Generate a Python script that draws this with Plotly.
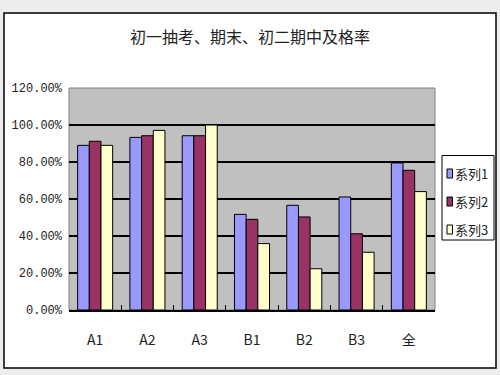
import plotly.graph_objects as go

categories = ["A1", "A2", "A3", "B1", "B2", "B3", "全"]
series1 = [0.89, 0.933, 0.942, 0.517, 0.566, 0.611, 0.795]
series2 = [0.912, 0.942, 0.942, 0.49, 0.503, 0.412, 0.755]
series3 = [0.89, 0.971, 1.0, 0.359, 0.223, 0.312, 0.64]
names = ["系列1", "系列2", "系列3"]
colors = ["#9999FF", "#993366", "#FFFFCC"]
yticks = [0, 0.2, 0.4, 0.6, 0.8, 1.0, 1.2]
yticklabels = ["0.00%", "20.00%", "40.00%", "60.00%", "80.00%", "100.00%", "120.00%"]

fig = go.Figure()
for name, vals, c in zip(names, [series1, series2, series3], colors):
    fig.add_trace(go.Bar(x=categories, y=vals, name=name, showlegend=False,
                         marker=dict(color=c, line=dict(color="black", width=1))))

# plot area px: x 69..435, y 88..310
W, H = 500, 375
L, R, T, B = 69, 65, 88, 65
pw, ph = W - L - R, H - T - B

def px_x(p):
    return (p - L) / pw

def px_y(p):
    return (H - B - p) / ph

shapes = [
    dict(type="rect", xref="paper", yref="paper",
         x0=px_x(4), x1=px_x(496), y0=px_y(368), y1=px_y(13),
         fillcolor="white", line=dict(color="black", width=1.5), layer="below"),
    dict(type="rect", xref="paper", yref="paper", x0=0, x1=1, y0=0, y1=1,
         fillcolor="#C0C0C0", line=dict(color="#808080", width=1), layer="below"),
    # legend box
    dict(type="rect", xref="paper", yref="paper",
         x0=px_x(442), x1=px_x(494), y0=px_y(240), y1=px_y(155.5),
         fillcolor="white", line=dict(color="black", width=1)),
]
annotations = []
for i, (name, c) in enumerate(zip(names, colors)):
    cy = 173.5 + 28 * i
    shapes.append(dict(type="rect", xref="paper", yref="paper",
                       x0=px_x(447), x1=px_x(452.5), y0=px_y(cy + 4.5), y1=px_y(cy - 4.5),
                       fillcolor=c, line=dict(color="black", width=1)))
    annotations.append(dict(text=name, xref="paper", yref="paper",
                            x=px_x(453.5), y=px_y(cy), xanchor="left", yanchor="middle",
                            showarrow=False,
                            font=dict(family="Noto Sans CJK SC", size=13, color="#222")))

fig.update_layout(
    width=W, height=H,
    margin=dict(l=L, r=R, t=T, b=B),
    paper_bgcolor="#ededed",
    plot_bgcolor="#C0C0C0",
    barmode="group", bargap=0.33, bargroupgap=0,
    title=dict(text="初一抽考、期末、初二期中及格率", x=0.5, xanchor="center",
               y=1 - 37 / H, yanchor="middle",
               font=dict(family="Noto Sans CJK SC", size=16, color="#222")),
    font=dict(family="Noto Sans CJK SC", color="#222"),
    showlegend=False,
    shapes=shapes,
    annotations=annotations,
)
fig.update_yaxes(range=[0, 1.2], tickvals=yticks, ticktext=yticklabels,
                 showgrid=True, gridcolor="black", gridwidth=1.5,
                 zeroline=False, showline=False, ticks="",
                 tickfont=dict(family="Liberation Mono", size=12, color="#222"),
                 ticklabelstandoff=6)
fig.update_xaxes(showline=True, linecolor="black", linewidth=2,
                 ticks="inside", ticklen=5, tickcolor="black", tickson="boundaries",
                 tickfont=dict(family="Noto Sans CJK SC", size=14, color="#222"),
                 ticklabelstandoff=16)

fig.write_html("out.html")
